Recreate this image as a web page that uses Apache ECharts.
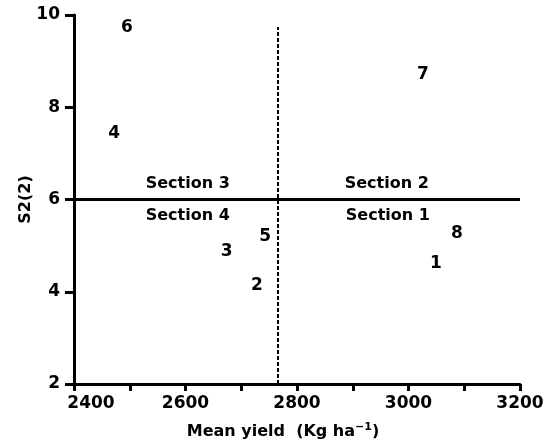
<!DOCTYPE html>
<html>
<head>
<meta charset="utf-8">
<script src="https://cdn.jsdelivr.net/npm/echarts@6/dist/echarts.min.js"></script>
<style>
  html, body { margin: 0; padding: 0; background: #fff; }
  #chart_1 { width: 557px; height: 445px; }
</style>
</head>
<body>
<div id="chart_1"></div>
<script>
// 品种编号和坐标 (平均产量, S2)
var pointNames = ['1', '2', '3', '4', '5', '6', '7', '8'];
var meanYield = [3049, 2728, 2674, 2472, 2743, 2495, 3026, 3087];
var s2Values = [4.61, 4.13, 4.87, 7.43, 5.20, 9.72, 8.70, 5.26];

// 分区文字
var sectionNames = ['Section 3', 'Section 4', 'Section 2', 'Section 1'];
var sectionX = [2604, 2604, 2961, 2963];
var sectionY = [6.33, 5.65, 6.33, 5.65];

// 分界线: 平均产量 和 S2 = 6
var meanLineX = 2766;
var meanLineTop = 9.74;
var s2Line = 6;

var xTicks = [2400, 2600, 2800, 3000, 3200];
var yTicks = [2, 4, 6, 8, 10];

(function() {
	var myChart = echarts.init(document.getElementById('chart_1'));
	var fontFamily = '"DejaVu Sans", Arial, sans-serif';

	var pts = [];
	for (var i = 0; i < pointNames.length; i++) {
		pts.push({ name: pointNames[i], value: [meanYield[i], s2Values[i]] });
	}
	var secs = [];
	for (var j = 0; j < sectionNames.length; j++) {
		secs.push({ name: sectionNames[j], value: [sectionX[j], sectionY[j]] });
	}

	function labelStyle(size) {
		return {
			show: true,
			position: 'inside',
			formatter: '{b}',
			color: '#000',
			opacity: 1,
			fontFamily: fontFamily,
			fontWeight: 'bold',
			fontSize: size
		};
	}

	var option = {
		animation: false,
		grid: { left: 74, right: 37, top: 15, bottom: 61 },
		xAxis: {
			type: 'value',
			min: xTicks[0],
			max: xTicks[xTicks.length - 1],
			interval: 100,
			name: 'Mean yield  (Kg ha{sup|−1})',
			nameLocation: 'middle',
			nameGap: 38,
			nameTextStyle: {
				color: '#000', fontFamily: fontFamily, fontWeight: 'bold', fontSize: 16,
				padding: [0, 28, 0, 0],
				rich: { sup: { fontSize: 11, fontWeight: 'bold', fontFamily: fontFamily, verticalAlign: 'top', padding: [0, 0, 8, 0] } }
			},
			axisLine: { lineStyle: { color: '#000', width: 3 } },
			axisTick: { length: 7, lineStyle: { color: '#000', width: 3 } },
			axisLabel: {
				color: '#000', fontFamily: fontFamily, fontWeight: 'bold', fontSize: 17, margin: 11,
				formatter: function(v) {
					if (v === xTicks[0]) return '{first|' + v + '}';
					return xTicks.indexOf(v) >= 0 ? String(v) : '';
				},
				rich: { first: { fontFamily: fontFamily, fontWeight: 'bold', fontSize: 17, color: '#000', padding: [0, 0, 0, 34] } }
			},
			splitLine: { show: false }
		},
		yAxis: {
			type: 'value',
			min: yTicks[0],
			max: yTicks[yTicks.length - 1],
			interval: 2,
			name: 'S2(2)',
			nameLocation: 'middle',
			nameGap: 40,
			nameMoveOverlap: false,
			nameTextStyle: {
				color: '#000', fontFamily: fontFamily, fontWeight: 'bold', fontSize: 16
			},
			axisLine: { lineStyle: { color: '#000', width: 3 } },
			axisTick: { length: 9, lineStyle: { color: '#000', width: 3 } },
			axisLabel: { color: '#000', fontFamily: fontFamily, fontWeight: 'bold', fontSize: 17, margin: 14 },
			splitLine: { show: false }
		},
		series: [{
			name: 'points',
			type: 'scatter',
			symbolSize: 1,
			itemStyle: { color: 'rgba(0,0,0,0)', opacity: 1 },
			label: labelStyle(17),
			data: pts,
			markLine: {
				silent: true,
				symbol: 'none',
				label: { show: false },
				data: [
					[{ coord: [xTicks[0], s2Line], lineStyle: { type: 'solid', color: '#000', width: 3, opacity: 1 } },
					 { coord: [xTicks[xTicks.length - 1], s2Line] }],
					[{ coord: [meanLineX, yTicks[0]], lineStyle: { type: [4, 2], color: '#000', width: 2, opacity: 1 } },
					 { coord: [meanLineX, meanLineTop] }]
				]
			}
		}, {
			name: 'sections',
			type: 'scatter',
			symbolSize: 1,
			itemStyle: { color: 'rgba(0,0,0,0)', opacity: 1 },
			label: labelStyle(16),
			data: secs
		}]
	};
	myChart.setOption(option);
})();
</script>
</body>
</html>
